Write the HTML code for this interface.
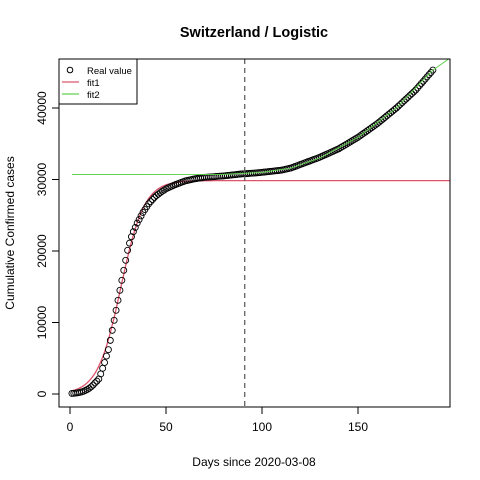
<!DOCTYPE html>
<html><head><meta charset="utf-8"><style>body{margin:0;background:#fff}svg{display:block;font-family:"Liberation Sans",sans-serif}</style></head>
<body>
<svg id="chart" width="480" height="480">
<rect width="480" height="480" fill="#fff"/>
<g id="marks"></g>
<rect x="59" y="59" width="391" height="348" fill="none" stroke="#000"/>
<text x="254" y="37" text-anchor="middle" font-size="14.5" font-weight="bold">Switzerland / Logistic</text>
<text x="254" y="466" text-anchor="middle" font-size="12">Days since 2020-03-08</text>
<text transform="translate(14,233) rotate(-90)" text-anchor="middle" font-size="12">Cumulative Confirmed cases</text>
<g id="axes"></g>
<g>
<rect x="59" y="59" width="78" height="45" fill="#fff" stroke="#000"/>
<circle cx="70" cy="70" r="2.8" fill="none" stroke="#000"/>
<text x="87" y="74" font-size="9.5">Real value</text>
<line x1="62" y1="82" x2="79" y2="82" stroke="#DF536B" stroke-width="1.2"/>
<text x="87" y="86" font-size="9.5">fit1</text>
<line x1="62" y1="94" x2="79" y2="94" stroke="#61D04F" stroke-width="1.2"/>
<text x="87" y="98" font-size="9.5">fit2</text>
</g>
</svg>
<script>
const realValues=[80,100,130,170,220,290,380,490,630,800,
1000,1250,1550,1800,2100,2800,3600,4400,5300,6200,
7500,8900,10300,11700,13100,14500,15900,17300,18700,20100,
21100,22000,22700,23300,23900,24400,24900,25400,25800,26200,
26600,26900,27200,27500,27750,27950,28150,28350,28500,28700,
28820,28940,29060,29180,29300,29400,29500,29600,29700,29800,
29860,29920,29980,30040,30100,30140,30180,30220,30260,30300,
30320,30340,30360,30380,30400,30420,30440,30460,30480,30500,
30530,30560,30590,30620,30650,30680,30710,30740,30770,30790,30800,
30820,30840,30860,30880,30900,30920,30950,30970,31000,
31030,31060,31090,31120,31150,31180,31210,31240,31270,31300,
31360,31420,31480,31540,31600,31700,31800,31900,32000,32100,
32200,32300,32400,32500,32600,32700,32800,32900,33000,33100,
33220,33340,33460,33580,33700,33820,33940,34060,34180,34300,
34460,34620,34780,34940,35100,35260,35420,35580,35740,35900,
36090,36280,36470,36660,36850,37040,37230,37420,37610,37800,
38020,38240,38460,38680,38900,39120,39340,39560,39780,40000,
40250,40500,40750,41000,41250,41500,41750,42000,42250,42500,
42810,43120,43430,43740,44050,44360,44670,44980,45300];
const startDay=1;
const fit1Params=[29850,0.165,26.5]; // K, r, t0
const fit2Days=[1,80,100,115,130,150,170,189,198];
const fit2Values=[30700,30720,31000,31600,33000,35900,40000,45300,47000];
const cutDay=[91];
const xTicks=[0,50,100,150];
const yTicks=[0,10000,20000,30000,40000];
const NS="http://www.w3.org/2000/svg";
const sx=d=>70+d*1.92;
const sy=v=>394-v*0.00715;
const marks=document.getElementById('marks'),axes=document.getElementById('axes');
function mk(tag,attrs,parent){const e=document.createElementNS(NS,tag);for(const k in attrs)e.setAttribute(k,attrs[k]);parent.appendChild(e);return e;}
const clip=mk('clipPath',{id:'pc'},marks);mk('rect',{x:59,y:59,width:391,height:348},clip);
const g=mk('g',{'clip-path':'url(#pc)'},marks);
let p=[];for(let d=startDay;d<=200;d+=1){const v=fit1Params[0]/(1+Math.exp(-fit1Params[1]*(d-fit1Params[2])));p.push(sx(d).toFixed(1)+','+sy(v).toFixed(1));}
const f1=mk('polyline',{points:p.join(' '),fill:'none',stroke:'#DF536B','stroke-width':1.3},g);


realValues.forEach((v,i)=>{const c=mk('circle',{cx:sx(startDay+i),cy:sy(v),r:3,fill:'none',stroke:'#000','stroke-width':0.9},g);

});
const f2=mk('polyline',{points:fit2Days.map((d,i)=>sx(d)+','+sy(fit2Values[i])).join(' '),fill:'none',stroke:'#61D04F','stroke-width':1},g);


const vl=mk('line',{x1:sx(cutDay[0]),x2:sx(cutDay[0]),y1:59,y2:407,stroke:'#555','stroke-dasharray':'5,4','stroke-width':1.2},g);


mk('line',{x1:sx(xTicks[0]),x2:sx(xTicks[xTicks.length-1]),y1:407,y2:407,stroke:'#000'},axes);
xTicks.forEach(t=>{mk('line',{x1:sx(t),x2:sx(t),y1:407,y2:414,stroke:'#000'},axes);
const tx=mk('text',{x:sx(t),y:431,'text-anchor':'middle','font-size':12},axes);tx.textContent=t;

});
mk('line',{x1:59,x2:59,y1:sy(yTicks[0]),y2:sy(yTicks[yTicks.length-1]),stroke:'#000'},axes);
yTicks.forEach(t=>{mk('line',{x1:52,x2:59,y1:sy(t),y2:sy(t),stroke:'#000'},axes);
const tx=mk('text',{transform:`translate(46,${sy(t)}) rotate(-90)`,'text-anchor':'middle','font-size':12},axes);tx.textContent=t;

});
</script>
</body></html>
